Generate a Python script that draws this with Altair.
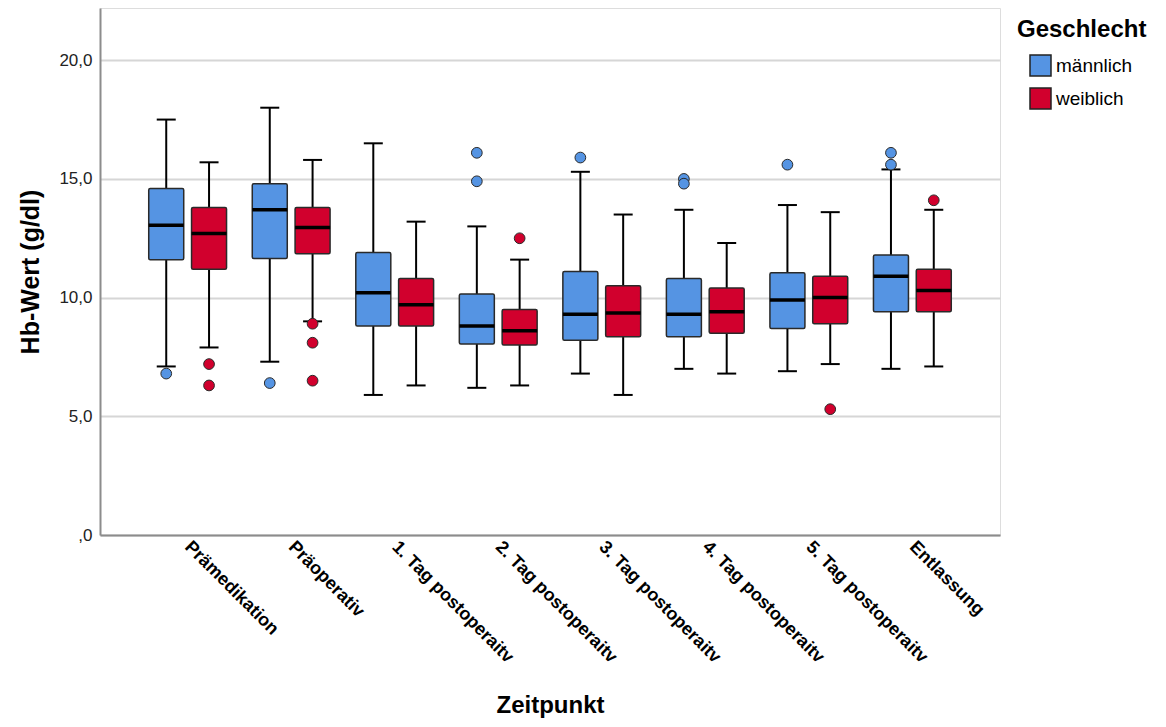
import altair as alt
import pandas as pd

categories = ["Prämedikation", "Präoperativ", "1. Tag postoperaitv", "2. Tag postoperaitv",
              "3. Tag postoperaitv", "4. Tag postoperaitv", "5. Tag postoperaitv", "Entlassung"]
genders = ["männlich", "weiblich"]

# male box statistics
m_lo = [7.1, 7.3, 5.9, 6.2, 6.8, 7.0, 6.9, 7.0]
m_q1 = [11.6, 11.65, 8.8, 8.05, 8.2, 8.35, 8.7, 9.4]
m_med = [13.05, 13.7, 10.2, 8.8, 9.3, 9.3, 9.9, 10.9]
m_q3 = [14.6, 14.8, 11.9, 10.15, 11.1, 10.8, 11.05, 11.8]
m_hi = [17.5, 18.0, 16.5, 13.0, 15.3, 13.7, 13.9, 15.4]

# female box statistics
f_lo = [7.9, 9.0, 6.3, 6.3, 5.9, 6.8, 7.2, 7.1]
f_q1 = [11.2, 11.85, 8.8, 8.0, 8.35, 8.5, 8.9, 9.4]
f_med = [12.7, 12.95, 9.7, 8.6, 9.35, 9.4, 10.0, 10.3]
f_q3 = [13.8, 13.8, 10.8, 9.5, 10.5, 10.4, 10.9, 11.2]
f_hi = [15.7, 15.8, 13.2, 11.6, 13.5, 12.3, 13.6, 13.7]

# outliers
m_out = [[6.8], [6.4], [], [16.1, 14.9], [15.9], [15.0, 14.8], [15.6], [16.1, 15.6]]
f_out = [[7.2, 6.3], [8.9, 8.1, 6.5], [], [12.5], [], [], [5.3], [14.1]]

rows = []
outrows = []
for i, c in enumerate(categories):
    rows.append(dict(Zeitpunkt=c, Geschlecht="männlich", lo=m_lo[i], q1=m_q1[i], med=m_med[i], q3=m_q3[i], hi=m_hi[i]))
    rows.append(dict(Zeitpunkt=c, Geschlecht="weiblich", lo=f_lo[i], q1=f_q1[i], med=f_med[i], q3=f_q3[i], hi=f_hi[i]))
    for v in m_out[i]:
        outrows.append(dict(Zeitpunkt=c, Geschlecht="männlich", value=v))
    for v in f_out[i]:
        outrows.append(dict(Zeitpunkt=c, Geschlecht="weiblich", value=v))
box_df = pd.DataFrame(rows)
out_df = pd.DataFrame(outrows)

FONT = "Liberation Sans"
BLUE = "#5594E3"
RED = "#D1002D"

x = alt.X("Zeitpunkt:N", sort=categories,
          scale=alt.Scale(paddingInner=0.173, paddingOuter=0.433),
          axis=alt.Axis(labelAngle=45, labelAlign="left", labelBaseline="middle",
                        labelFontSize=18, labelFontWeight="bold", labelColor="#000",
                        labelPadding=9, labelLimit=400, ticks=False,
                        domainColor="#8c8c8c", domainWidth=2,
                        title="Zeitpunkt", titleFontSize=24, titleFontWeight="bold",
                        titleColor="#000", titleX=450, titleY=170,
                        titleAlign="center", titleBaseline="middle"))
xo = alt.XOffset("Geschlecht:N", sort=genders, scale=alt.Scale(paddingInner=0, paddingOuter=0))

yscale = alt.Scale(domain=[0, 22.2], nice=False, zero=True)
yaxis = alt.Axis(values=[0, 5, 10, 15, 20],
                 labelExpr="datum.value == 0 ? ',0' : replace(format(datum.value, '.1f'), '.', ',')",
                 labelFontSize=17, labelColor="#222", labelPadding=8, ticks=False,
                 grid=True, gridColor="#d6d6d6", gridWidth=2,
                 domainColor="#8c8c8c", domainWidth=2,
                 title="Hb-Wert (g/dl)", titleFontSize=25, titleFontWeight="bold", titleColor="#000",
                 titleX=-70, titleY=263.5, titleAlign="center", titleBaseline="middle", titleAngle=-90)


def Y(field):
    return alt.Y(field, type="quantitative", scale=yscale, axis=yaxis, title="Hb-Wert (g/dl)")


color = alt.Color("Geschlecht:N", scale=alt.Scale(domain=genders, range=[BLUE, RED]),
                  legend=alt.Legend(title="Geschlecht", orient="none", legendX=917, legendY=10,
                                    titleFontSize=24, titleFontWeight="bold", titleColor="#000",
                                    titlePadding=12, labelFontSize=19, labelColor="#000",
                                    symbolType="square", symbolSize=441, symbolStrokeColor="#222",
                                    symbolStrokeWidth=1.5, symbolOffset=12, labelOffset=4,
                                    rowPadding=6, padding=0))

base = alt.Chart(box_df)

whisker = base.mark_rule(color="black", strokeWidth=2).encode(x=x, xOffset=xo, y=Y("lo"), y2="hi")
cap_lo = base.mark_tick(color="black", size=19, thickness=2, opacity=1).encode(x=x, xOffset=xo, y=Y("lo"))
cap_hi = base.mark_tick(color="black", size=19, thickness=2, opacity=1).encode(x=x, xOffset=xo, y=Y("hi"))
box = base.mark_bar(size=35, stroke="#2a2a2a", strokeWidth=1.5, opacity=1, cornerRadius=1.5).encode(
    x=x, xOffset=xo, y=Y("q1"), y2="q3", color=color)
median = base.mark_tick(color="black", size=35, thickness=3.5, opacity=1).encode(x=x, xOffset=xo, y=Y("med"))
outliers = alt.Chart(out_df).mark_circle(size=115, stroke="#2a2a2a", strokeWidth=1, opacity=1).encode(
    x=x, xOffset=xo, y=Y("value"), color=alt.Color("Geschlecht:N", scale=alt.Scale(domain=genders, range=[BLUE, RED]), legend=None))

chart = alt.layer(whisker, cap_lo, cap_hi, box, median, outliers).properties(
    width=900, height=527,
    autosize=alt.AutoSizeParams(type="none"),
    padding={"left": 92, "top": 0, "right": 148, "bottom": 184},
).configure_view(stroke=None).configure(font=FONT)

chart.save("out.html", embed_options={"renderer": "svg", "actions": False})
